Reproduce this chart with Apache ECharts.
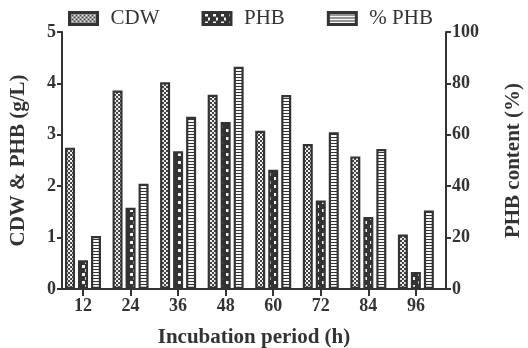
<!DOCTYPE html>
<html>
<head>
<meta charset="utf-8">
<script src="https://cdn.jsdelivr.net/npm/echarts@6/dist/echarts.min.js"></script>
<style>
  html, body { margin: 0; padding: 0; background: #fff; }
  #main { width: 528px; height: 348px; }
</style>
</head>
<body>
<div id="main"></div>
<script type="text/javascript">
  // data
  var hours = [12, 24, 36, 48, 60, 72, 84, 96];
  var cdw = [2.75, 3.86, 4.02, 3.78, 3.08, 2.82, 2.58, 1.06];
  var phb = [0.56, 1.58, 2.68, 3.25, 2.32, 1.72, 1.40, 0.33];
  var phbPct = [20.6, 41.0, 67.0, 86.5, 75.5, 61.0, 54.5, 30.5];

  var ink = '#333';
  var serif = 'Liberation Serif';

  function makePattern(w, h, draw) {
    var c = document.createElement('canvas');
    c.width = w; c.height = h;
    var ctx = c.getContext('2d');
    draw(ctx);
    return { image: c, repeat: 'repeat' };
  }

  // fine checker for CDW
  var patCdw = makePattern(4, 4, function (ctx) {
    ctx.fillStyle = '#eee'; ctx.fillRect(0, 0, 4, 4);
    ctx.fillStyle = '#444';
    ctx.fillRect(0, 0, 2, 2); ctx.fillRect(2, 2, 2, 2);
  });
  // dark with staggered white dashes for PHB
  var patPhb = makePattern(8, 8, function (ctx) {
    ctx.fillStyle = ink; ctx.fillRect(0, 0, 8, 8);
    ctx.fillStyle = '#f4f4f4';
    ctx.fillRect(2, 1, 3, 3); ctx.fillRect(5, 5, 2, 3);
  });
  // horizontal ladder for % PHB
  var patPct = makePattern(4, 3, function (ctx) {
    ctx.fillStyle = '#f6f6f6'; ctx.fillRect(0, 0, 4, 3);
    ctx.fillStyle = ink; ctx.fillRect(0, 2, 4, 1);
  });

  function pairs(vals) {
    return hours.map(function (h, i) { return [h, vals[i]]; });
  }

  var chart = echarts.init(document.getElementById('main'));

  var axisTxt = { color: ink, fontFamily: serif, fontWeight: 'bold', fontSize: 18 };
  var nameTxt = { color: ink, fontFamily: serif, fontWeight: 'bold', fontSize: 21 };

  var barStyle = function (pat) {
    return { color: pat, borderColor: ink, borderWidth: 2.2 };
  };

  var option = {
    animation: false,
    backgroundColor: '#fff',
    legend: {
      top: 3,
      left: 63,
      icon: 'rect',
      itemWidth: 28,
      itemHeight: 12,
      itemGap: 42,
      itemStyle: { borderColor: ink, borderWidth: 3 },
      textStyle: { color: ink, fontFamily: serif, fontSize: 21, padding: [0, 0, 0, 8] },
      data: ['CDW', 'PHB', '% PHB']
    },
    grid: { left: 62, right: 82, top: 32, bottom: 59, containLabel: false, outerBoundsMode: 'none' },
    xAxis: {
      type: 'value',
      min: 6.7,
      max: 103.6,
      splitLine: { show: false },
      name: 'Incubation period (h)',
      nameLocation: 'middle',
      nameGap: 38,
      nameTextStyle: nameTxt,
      axisLine: { show: true, lineStyle: { color: ink, width: 2 } },
      axisTick: { show: true, length: 7, lineStyle: { width: 2 }, customValues: hours },
      axisLabel: Object.assign({ margin: 8, customValues: hours }, axisTxt)
    },
    yAxis: [
      {
        type: 'value',
        min: 0, max: 5, interval: 1,
        splitLine: { show: false },
        name: 'CDW & PHB (g/L)',
        nameLocation: 'middle',
        nameGap: 33,
        nameTextStyle: nameTxt,
        axisLine: { show: true, lineStyle: { color: ink, width: 2 } },
        axisTick: { show: true, length: 5, lineStyle: { width: 2 } },
        axisLabel: Object.assign({ margin: 6 }, axisTxt)
      },
      {
        type: 'value',
        min: 0, max: 100, interval: 20,
        position: 'right',
        splitLine: { show: false },
        name: 'PHB content (%)',
        nameLocation: 'middle',
        nameGap: 57,
        nameTextStyle: nameTxt,
        axisLine: { show: true, lineStyle: { color: ink, width: 2 } },
        axisTick: { show: true, length: 5, lineStyle: { width: 2 } },
        axisLabel: Object.assign({ margin: 6 }, axisTxt)
      }
    ],
    series: [
      { name: 'CDW', type: 'bar', barWidth: 10, barGap: '30%', itemStyle: barStyle(patCdw), data: pairs(cdw) },
      { name: 'PHB', type: 'bar', barWidth: 10, barGap: '30%', itemStyle: barStyle(patPhb), data: pairs(phb) },
      { name: '% PHB', type: 'bar', barWidth: 10, barGap: '30%', yAxisIndex: 1, itemStyle: barStyle(patPct), data: pairs(phbPct) }
    ]
  };

  chart.setOption(option);
</script>
</body>
</html>
